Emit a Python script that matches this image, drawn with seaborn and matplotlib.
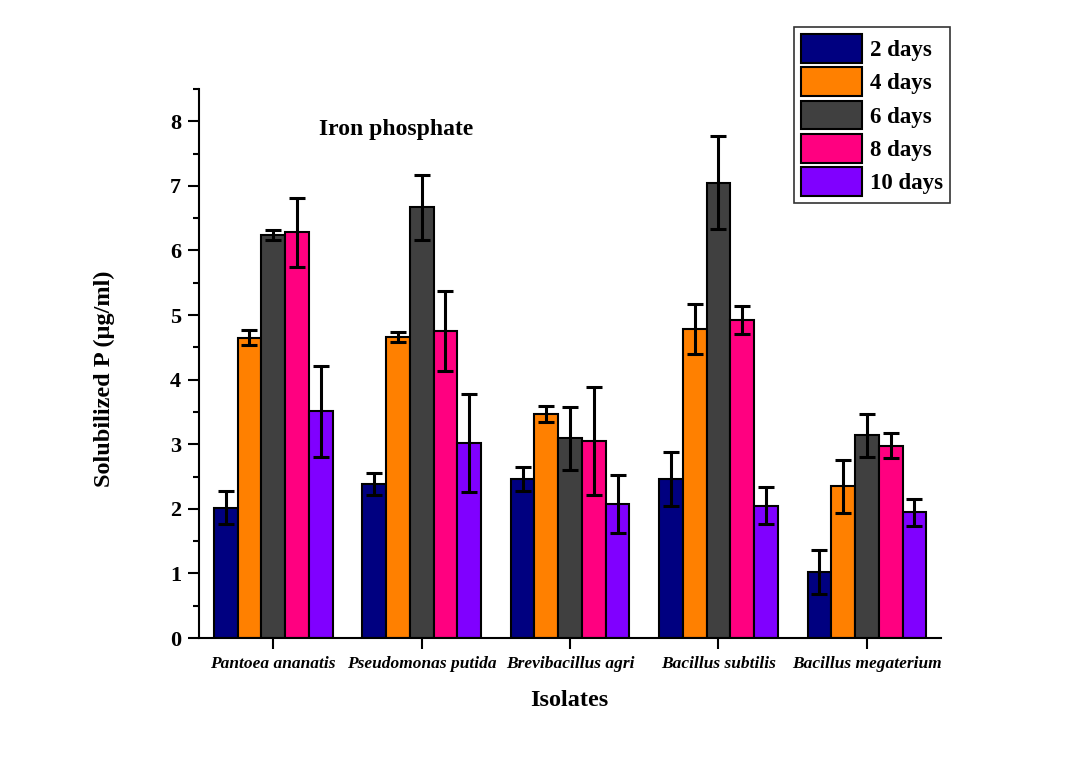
import numpy as np
import pandas as pd
import matplotlib
matplotlib.use("Agg")
import matplotlib.pyplot as plt
from matplotlib.ticker import MultipleLocator
import seaborn as sns

isolates = ["Pantoea ananatis", "Pseudomonas putida", "Brevibacillus agri",
            "Bacillus subtilis", "Bacillus megaterium"]
days = ["2 days", "4 days", "6 days", "8 days", "10 days"]
colors = ["#000080", "#FF8000", "#404040", "#FF0080", "#8000FF"]

day2 = [2.02, 2.39, 2.46, 2.46, 1.02]
day4 = [4.65, 4.66, 3.47, 4.78, 2.35]
day6 = [6.24, 6.67, 3.09, 7.05, 3.14]
day8 = [6.28, 4.75, 3.05, 4.92, 2.98]
day10 = [3.51, 3.02, 2.07, 2.05, 1.95]

err2 = [0.26, 0.17, 0.19, 0.42, 0.34]
err4 = [0.12, 0.08, 0.13, 0.39, 0.41]
err6 = [0.08, 0.50, 0.49, 0.72, 0.33]
err8 = [0.54, 0.62, 0.83, 0.22, 0.19]
err10 = [0.70, 0.76, 0.45, 0.29, 0.21]

values = [day2, day4, day6, day8, day10]
errors = [err2, err4, err6, err8, err10]

rows = []
for d, vals in zip(days, values):
    for iso, v in zip(isolates, vals):
        rows.append({"Isolates": iso, "Day": d, "Value": v})
df = pd.DataFrame(rows)

sns.set_theme(style="ticks")
plt.rcParams["font.family"] = ["Liberation Serif", "DejaVu Serif"]
plt.rcParams["font.weight"] = "bold"
plt.rcParams["text.color"] = "black"
plt.rcParams["axes.labelcolor"] = "black"
plt.rcParams["xtick.color"] = "black"
plt.rcParams["ytick.color"] = "black"
plt.rcParams["axes.edgecolor"] = "black"

fig = plt.figure(figsize=(10.78, 7.59), dpi=100)
ax = fig.add_axes([0.1846, 0.1594, 0.873 - 0.1846, 0.8827 - 0.1594])

sns.barplot(data=df, x="Isolates", y="Value", hue="Day", order=isolates,
            hue_order=days, palette=colors, edgecolor="black", linewidth=1.5,
            saturation=1, width=0.8, errorbar=None, ax=ax)

for cont, errs in zip(ax.containers, errors):
    xs = [p.get_x() + p.get_width() / 2 for p in cont.patches]
    ys = [p.get_height() for p in cont.patches]
    ax.errorbar(xs, ys, yerr=errs, fmt="none", ecolor="black",
                elinewidth=2.2, capsize=6, capthick=2.2, zorder=5)

ax.set_xlim(-0.5, 4.5)
ax.set_ylim(0, 8.5)
ax.yaxis.set_major_locator(MultipleLocator(1))
ax.yaxis.set_minor_locator(MultipleLocator(0.5))
ax.tick_params(axis="both", which="major", direction="out", length=8, width=1.5,
               color="black", labelcolor="black", pad=5)
ax.tick_params(axis="y", which="minor", direction="out", length=4, width=1.5,
               color="black")
ax.tick_params(axis="y", labelsize=16)
ax.tick_params(axis="x", labelsize=12.5)
for lab in ax.get_xticklabels():
    lab.set_fontstyle("italic")
    lab.set_fontweight("bold")
for lab in ax.get_yticklabels():
    lab.set_fontweight("bold")

sns.despine(ax=ax)
for s in ["left", "bottom"]:
    ax.spines[s].set_linewidth(1.5)
    ax.spines[s].set_color("black")

ax.set_ylabel("Solubilized P (µg/ml)", fontsize=17.5, fontweight="bold", color="black")
ax.set_xlabel("Isolates", fontsize=17.5, fontweight="bold", color="black")
ax.yaxis.set_label_coords(-0.113, 0.472)
ax.xaxis.set_label_coords(0.499, -0.095)

ax.text(0.31, 7.88, "Iron phosphate", fontsize=17, fontweight="bold",
        ha="left", va="center", color="black")

leg = ax.legend(loc="upper right", bbox_to_anchor=(0.881, 0.964),
                bbox_transform=fig.transFigure, title=None,
                prop={"size": 16.5, "weight": "bold"}, frameon=True, fancybox=False,
                handlelength=2.65, handleheight=1.55, labelspacing=0.2,
                handletextpad=0.35, borderpad=0.3, borderaxespad=0)
leg.get_frame().set_edgecolor("black")
leg.get_frame().set_linewidth(1.2)
for t in leg.get_texts():
    t.set_color("black")

fig.savefig("out.png", dpi=100, facecolor="white")
